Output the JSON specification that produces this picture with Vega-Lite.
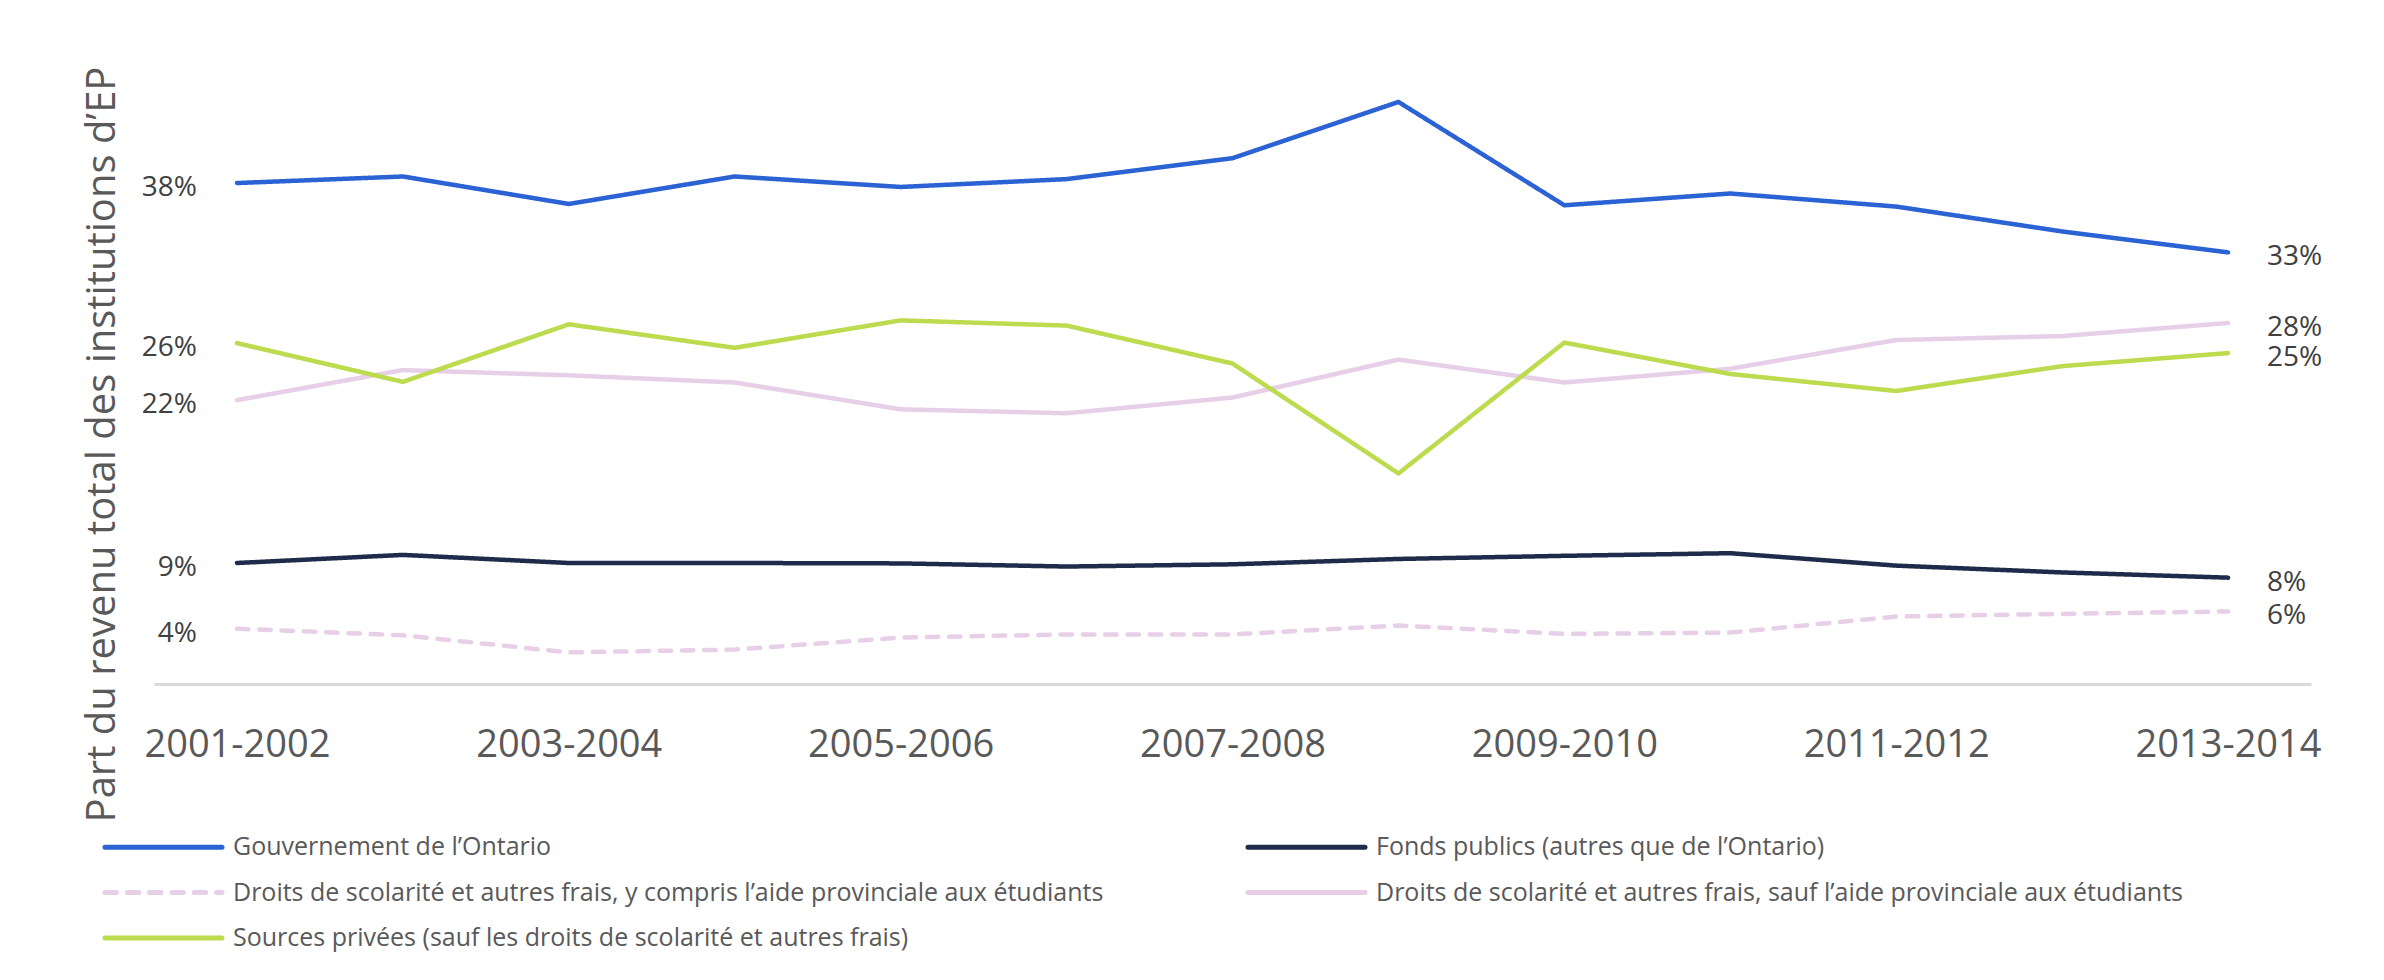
{
  "$schema": "https://vega.github.io/schema/vega-lite/v6.json",
  "width": 2157,
  "height": 654,
  "autosize": {"type": "none"},
  "padding": {"left": 154, "top": 30, "right": 73, "bottom": 296},
  "background": "white",
  "config": {"view": {"stroke": null}, "font": "Open Sans"},
  "data": {
    "values": [
      {"annee": "2001-2002", "serie": "Gouvernement de l’Ontario", "part": 0.383},
      {"annee": "2002-2003", "serie": "Gouvernement de l’Ontario", "part": 0.388},
      {"annee": "2003-2004", "serie": "Gouvernement de l’Ontario", "part": 0.367},
      {"annee": "2004-2005", "serie": "Gouvernement de l’Ontario", "part": 0.388},
      {"annee": "2005-2006", "serie": "Gouvernement de l’Ontario", "part": 0.380},
      {"annee": "2006-2007", "serie": "Gouvernement de l’Ontario", "part": 0.386},
      {"annee": "2007-2008", "serie": "Gouvernement de l’Ontario", "part": 0.402},
      {"annee": "2008-2009", "serie": "Gouvernement de l’Ontario", "part": 0.445},
      {"annee": "2009-2010", "serie": "Gouvernement de l’Ontario", "part": 0.366},
      {"annee": "2010-2011", "serie": "Gouvernement de l’Ontario", "part": 0.375},
      {"annee": "2011-2012", "serie": "Gouvernement de l’Ontario", "part": 0.365},
      {"annee": "2012-2013", "serie": "Gouvernement de l’Ontario", "part": 0.346},
      {"annee": "2013-2014", "serie": "Gouvernement de l’Ontario", "part": 0.330},
      {"annee": "2001-2002", "serie": "Fonds publics (autres que de l’Ontario)", "part": 0.0925},
      {"annee": "2002-2003", "serie": "Fonds publics (autres que de l’Ontario)", "part": 0.0987},
      {"annee": "2003-2004", "serie": "Fonds publics (autres que de l’Ontario)", "part": 0.0925},
      {"annee": "2004-2005", "serie": "Fonds publics (autres que de l’Ontario)", "part": 0.0925},
      {"annee": "2005-2006", "serie": "Fonds publics (autres que de l’Ontario)", "part": 0.0922},
      {"annee": "2006-2007", "serie": "Fonds publics (autres que de l’Ontario)", "part": 0.0898},
      {"annee": "2007-2008", "serie": "Fonds publics (autres que de l’Ontario)", "part": 0.0915},
      {"annee": "2008-2009", "serie": "Fonds publics (autres que de l’Ontario)", "part": 0.0956},
      {"annee": "2009-2010", "serie": "Fonds publics (autres que de l’Ontario)", "part": 0.0980},
      {"annee": "2010-2011", "serie": "Fonds publics (autres que de l’Ontario)", "part": 0.1000},
      {"annee": "2011-2012", "serie": "Fonds publics (autres que de l’Ontario)", "part": 0.0905},
      {"annee": "2012-2013", "serie": "Fonds publics (autres que de l’Ontario)", "part": 0.0853},
      {"annee": "2013-2014", "serie": "Fonds publics (autres que de l’Ontario)", "part": 0.0813},
      {"annee": "2001-2002", "serie": "Droits de scolarité et autres frais, y compris l’aide provinciale aux étudiants", "part": 0.0423},
      {"annee": "2002-2003", "serie": "Droits de scolarité et autres frais, y compris l’aide provinciale aux étudiants", "part": 0.0372},
      {"annee": "2003-2004", "serie": "Droits de scolarité et autres frais, y compris l’aide provinciale aux étudiants", "part": 0.0242},
      {"annee": "2004-2005", "serie": "Droits de scolarité et autres frais, y compris l’aide provinciale aux étudiants", "part": 0.0263},
      {"annee": "2005-2006", "serie": "Droits de scolarité et autres frais, y compris l’aide provinciale aux étudiants", "part": 0.0355},
      {"annee": "2006-2007", "serie": "Droits de scolarité et autres frais, y compris l’aide provinciale aux étudiants", "part": 0.0379},
      {"annee": "2007-2008", "serie": "Droits de scolarité et autres frais, y compris l’aide provinciale aux étudiants", "part": 0.0379},
      {"annee": "2008-2009", "serie": "Droits de scolarité et autres frais, y compris l’aide provinciale aux étudiants", "part": 0.0447},
      {"annee": "2009-2010", "serie": "Droits de scolarité et autres frais, y compris l’aide provinciale aux étudiants", "part": 0.0383},
      {"annee": "2010-2011", "serie": "Droits de scolarité et autres frais, y compris l’aide provinciale aux étudiants", "part": 0.0393},
      {"annee": "2011-2012", "serie": "Droits de scolarité et autres frais, y compris l’aide provinciale aux étudiants", "part": 0.0516},
      {"annee": "2012-2013", "serie": "Droits de scolarité et autres frais, y compris l’aide provinciale aux étudiants", "part": 0.0536},
      {"annee": "2013-2014", "serie": "Droits de scolarité et autres frais, y compris l’aide provinciale aux étudiants", "part": 0.0555},
      {"annee": "2001-2002", "serie": "Droits de scolarité et autres frais, sauf l’aide provinciale aux étudiants", "part": 0.217},
      {"annee": "2002-2003", "serie": "Droits de scolarité et autres frais, sauf l’aide provinciale aux étudiants", "part": 0.240},
      {"annee": "2003-2004", "serie": "Droits de scolarité et autres frais, sauf l’aide provinciale aux étudiants", "part": 0.236},
      {"annee": "2004-2005", "serie": "Droits de scolarité et autres frais, sauf l’aide provinciale aux étudiants", "part": 0.2305},
      {"annee": "2005-2006", "serie": "Droits de scolarité et autres frais, sauf l’aide provinciale aux étudiants", "part": 0.210},
      {"annee": "2006-2007", "serie": "Droits de scolarité et autres frais, sauf l’aide provinciale aux étudiants", "part": 0.207},
      {"annee": "2007-2008", "serie": "Droits de scolarité et autres frais, sauf l’aide provinciale aux étudiants", "part": 0.219},
      {"annee": "2008-2009", "serie": "Droits de scolarité et autres frais, sauf l’aide provinciale aux étudiants", "part": 0.248},
      {"annee": "2009-2010", "serie": "Droits de scolarité et autres frais, sauf l’aide provinciale aux étudiants", "part": 0.2305},
      {"annee": "2010-2011", "serie": "Droits de scolarité et autres frais, sauf l’aide provinciale aux étudiants", "part": 0.241},
      {"annee": "2011-2012", "serie": "Droits de scolarité et autres frais, sauf l’aide provinciale aux étudiants", "part": 0.263},
      {"annee": "2012-2013", "serie": "Droits de scolarité et autres frais, sauf l’aide provinciale aux étudiants", "part": 0.266},
      {"annee": "2013-2014", "serie": "Droits de scolarité et autres frais, sauf l’aide provinciale aux étudiants", "part": 0.276},
      {"annee": "2001-2002", "serie": "Sources privées (sauf les droits de scolarité et autres frais)", "part": 0.2606},
      {"annee": "2002-2003", "serie": "Sources privées (sauf les droits de scolarité et autres frais)", "part": 0.231},
      {"annee": "2003-2004", "serie": "Sources privées (sauf les droits de scolarité et autres frais)", "part": 0.275},
      {"annee": "2004-2005", "serie": "Sources privées (sauf les droits de scolarité et autres frais)", "part": 0.257},
      {"annee": "2005-2006", "serie": "Sources privées (sauf les droits de scolarité et autres frais)", "part": 0.278},
      {"annee": "2006-2007", "serie": "Sources privées (sauf les droits de scolarité et autres frais)", "part": 0.274},
      {"annee": "2007-2008", "serie": "Sources privées (sauf les droits de scolarité et autres frais)", "part": 0.245},
      {"annee": "2008-2009", "serie": "Sources privées (sauf les droits de scolarité et autres frais)", "part": 0.161},
      {"annee": "2009-2010", "serie": "Sources privées (sauf les droits de scolarité et autres frais)", "part": 0.261},
      {"annee": "2010-2011", "serie": "Sources privées (sauf les droits de scolarité et autres frais)", "part": 0.237},
      {"annee": "2011-2012", "serie": "Sources privées (sauf les droits de scolarité et autres frais)", "part": 0.224},
      {"annee": "2012-2013", "serie": "Sources privées (sauf les droits de scolarité et autres frais)", "part": 0.243},
      {"annee": "2013-2014", "serie": "Sources privées (sauf les droits de scolarité et autres frais)", "part": 0.253}
    ]
  },
  "encoding": {
    "x": {
      "field": "annee",
      "type": "ordinal",
      "scale": {"type": "point", "padding": 0.5},
      "axis": {
        "title": null,
        "values": ["2001-2002", "2003-2004", "2005-2006", "2007-2008", "2009-2010", "2011-2012", "2013-2014"],
        "ticks": false,
        "grid": false,
        "labelAngle": 0,
        "labelFontSize": 38,
        "labelColor": "#595959",
        "labelPadding": 42,
        "labelLimit": 400,
        "domainColor": "#d9d9d9",
        "domainWidth": 3
      }
    },
    "y": {
      "field": "part",
      "type": "quantitative",
      "scale": {"domain": [0, 0.5]},
      "axis": {
        "title": "Part du revenu total des institutions d’EP",
        "labels": false,
        "ticks": false,
        "domain": false,
        "grid": false,
        "titleFontSize": 40,
        "titleFontWeight": "normal",
        "titleColor": "#595959",
        "titleX": -40,
        "titleY": 414,
        "titleBaseline": "alphabetic"
      }
    }
  },
  "layer": [
    {
      "mark": {"type": "line", "strokeWidth": 4.5, "strokeCap": "round", "strokeJoin": "round"},
      "encoding": {
        "color": {
          "field": "serie",
          "type": "nominal",
          "scale": {
            "domain": [
              "Gouvernement de l’Ontario",
              "Fonds publics (autres que de l’Ontario)",
              "Droits de scolarité et autres frais, y compris l’aide provinciale aux étudiants",
              "Droits de scolarité et autres frais, sauf l’aide provinciale aux étudiants",
              "Sources privées (sauf les droits de scolarité et autres frais)"
            ],
            "range": ["#2B62D4", "#1E2B4A", "#E8CFE8", "#E8CFE8", "#BDDB4E"]
          },
          "legend": {
            "title": null,
            "orient": "none",
            "direction": "horizontal",
            "legendX": -49,
            "legendY": 802.5,
            "columns": 2,
            "padding": 0,
            "symbolType": "M-5,0H5",
            "symbolSize": 548,
            "symbolStrokeWidth": 5,
            "symbolOffset": 44,
            "labelOffset": 55,
            "labelFontSize": 25,
            "labelColor": "#595959",
            "labelLimit": 2000,
            "rowPadding": 17.5,
            "columnPadding": 133,
            "encode": {"symbols": {"update": {"strokeCap": {"value": "round"}}}}
          }
        },
        "strokeDash": {
          "field": "serie",
          "type": "nominal",
          "scale": {
            "domain": [
              "Gouvernement de l’Ontario",
              "Fonds publics (autres que de l’Ontario)",
              "Droits de scolarité et autres frais, y compris l’aide provinciale aux étudiants",
              "Droits de scolarité et autres frais, sauf l’aide provinciale aux étudiants",
              "Sources privées (sauf les droits de scolarité et autres frais)"
            ],
            "range": [[1, 0], [1, 0], [11.5, 10.8], [1, 0], [1, 0]]
          }
        }
      }
    },
    {
      "transform": [{"filter": "datum.annee === '2001-2002'"}],
      "mark": {"type": "text", "align": "right", "baseline": "middle", "dx": -40, "dy": 5, "fontSize": 28, "color": "#404040"},
      "encoding": {"text": {"field": "part", "type": "quantitative", "format": ".0%"}}
    },
    {
      "transform": [{"filter": "datum.annee === '2013-2014'"}],
      "mark": {"type": "text", "align": "left", "baseline": "middle", "dx": 39, "dy": 5, "fontSize": 28, "color": "#404040"},
      "encoding": {"text": {"field": "part", "type": "quantitative", "format": ".0%"}}
    }
  ]
}
